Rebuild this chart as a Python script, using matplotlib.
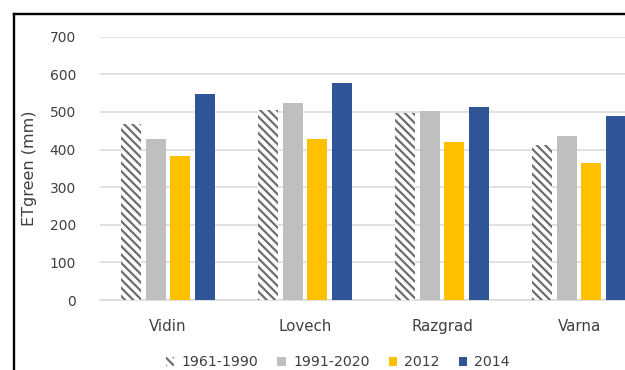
import numpy as np
import matplotlib
matplotlib.use("Agg")
import matplotlib.pyplot as plt
from matplotlib.lines import Line2D

# data
stations = ["Vidin", "Lovech", "Razgrad", "Varna"]
series = ["1961-1990", "1991-2020", "2012", "2014"]
et_1961_1990 = [468, 504, 498, 412]
et_1991_2020 = [427, 523, 502, 436]
et_2012 = [384, 427, 420, 365]
et_2014 = [548, 578, 513, 489]
yticks = [0, 100, 200, 300, 400, 500, 600, 700]

values = [et_1961_1990, et_1991_2020, et_2012, et_2014]
colors = ["white", "#bfbfbf", "#ffc000", "#2f5597"]

plt.rcParams['font.family'] = 'DejaVu Sans'
plt.rcParams['hatch.linewidth'] = 1.6
txt = '#404040'

fig = plt.figure(figsize=(6.25, 3.7), dpi=100)
# plot area runs past the right edge (reference is a cropped screenshot)
ax = fig.add_axes([99.5/625, 70/370, 548/625, 263.3/370])

x = np.arange(len(stations))
step = 0.18
bw = 0.146
handles = []
for i, (vals, c) in enumerate(zip(values, colors)):
    pos = x + (i - 1.5)*step
    if i == 0:
        b = ax.bar(pos, vals, bw, color=c, edgecolor='#6e6e6e', lw=0,
                   hatch='\\\\\\\\', label=series[i], zorder=3)
    else:
        b = ax.bar(pos, vals, bw, color=c, lw=0, label=series[i], zorder=3)
    handles.append(b)

ax.set_xlim(-0.5, 3.5)
ax.set_ylim(0, 700)
ax.set_yticks(yticks)
ax.set_xticks(x)
ax.set_xticklabels(stations, fontsize=10.8, color=txt)
ax.tick_params(axis='y', labelsize=10, colors=txt, length=0, pad=17)
ax.tick_params(axis='x', length=0, pad=14)
ax.yaxis.grid(True, color='#d9d9d9', lw=1.1, zorder=0)
for s in ['top', 'right', 'left']:
    ax.spines[s].set_visible(False)
ax.spines['bottom'].set_color('#d9d9d9')
ax.spines['bottom'].set_linewidth(1.1)
ax.set_ylabel('ETgreen (mm)', fontsize=11.5, color=txt, labelpad=9)

fig.legend(handles=handles, labels=series, loc='center', ncol=4,
           bbox_to_anchor=(338/625, 8/370), frameon=False, fontsize=10.2,
           handlelength=0.6, handleheight=0.6, handletextpad=0.5,
           columnspacing=1.35, labelcolor=txt, borderaxespad=0, borderpad=0)

# black frame of the original chart (only left and top visible)
fig.add_artist(Line2D([14.5/625, 14.5/625], [0, (370-13.5)/370], color='black',
                      lw=1.7, transform=fig.transFigure))
fig.add_artist(Line2D([14.5/625, 1], [(370-13.5)/370, (370-13.5)/370],
                      color='black', lw=1.7, transform=fig.transFigure))

fig.savefig('out.png', dpi=100)
